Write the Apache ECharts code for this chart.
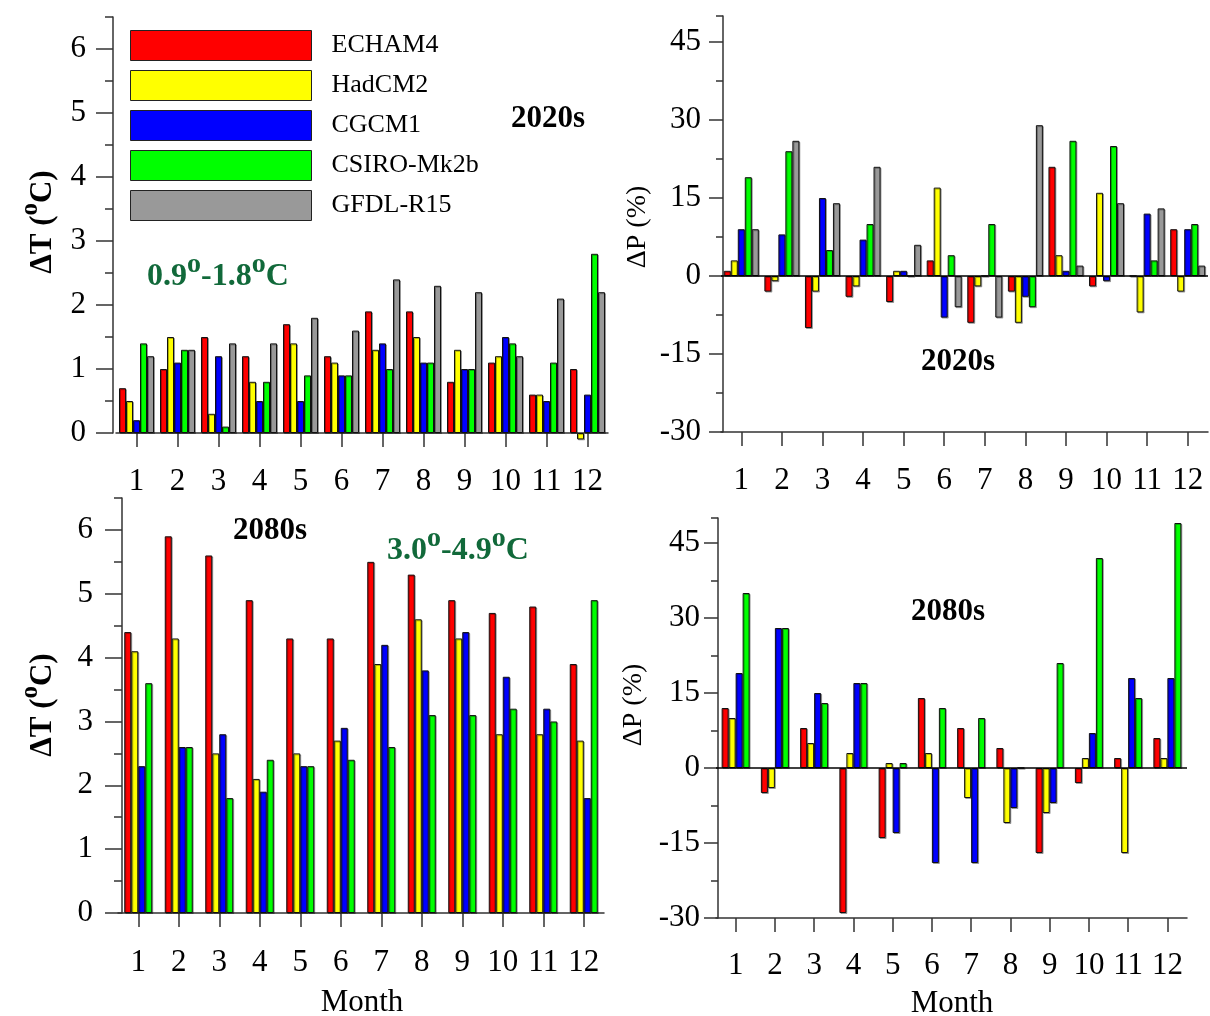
<!DOCTYPE html>
<html>
<head>
<meta charset="utf-8">
<script src="https://cdn.jsdelivr.net/npm/echarts@6/dist/echarts.min.js"></script>
<style>html,body{margin:0;padding:0;background:#fff}#c{width:1210px;height:1016px}</style>
</head>
<body>
<div id="c"></div>
<script>
const months = ['1','2','3','4','5','6','7','8','9','10','11','12'];
const models = ['ECHAM4','HadCM2','CGCM1','CSIRO-Mk2b','GFDL-R15'];

// 2020s temperature change (°C)
const t20_echam = [0.7,1.0,1.5,1.2,1.7,1.2,1.9,1.9,0.8,1.1,0.6,1.0];
const t20_had   = [0.5,1.5,0.3,0.8,1.4,1.1,1.3,1.5,1.3,1.2,0.6,-0.1];
const t20_cgcm  = [0.2,1.1,1.2,0.5,0.5,0.9,1.4,1.1,1.0,1.5,0.5,0.6];
const t20_csiro = [1.4,1.3,0.1,0.8,0.9,0.9,1.0,1.1,1.0,1.4,1.1,2.8];
const t20_gfdl  = [1.2,1.3,1.4,1.4,1.8,1.6,2.4,2.3,2.2,1.2,2.1,2.2];

// 2020s precipitation change (%)
const p20_echam = [1,-3,-10,-4,-5,3,-9,-3,21,-2,0,9];
const p20_had   = [3,-1,-3,-2,1,17,-2,-9,4,16,-7,-3];
const p20_cgcm  = [9,8,15,7,1,-8,0,-4,1,-1,12,9];
const p20_csiro = [19,24,5,10,0,4,10,-6,26,25,3,10];
const p20_gfdl  = [9,26,14,21,6,-6,-8,29,2,14,13,2];

// 2080s temperature change (°C)
const t80_echam = [4.4,5.9,5.6,4.9,4.3,4.3,5.5,5.3,4.9,4.7,4.8,3.9];
const t80_had   = [4.1,4.3,2.5,2.1,2.5,2.7,3.9,4.6,4.3,2.8,2.8,2.7];
const t80_cgcm  = [2.3,2.6,2.8,1.9,2.3,2.9,4.2,3.8,4.4,3.7,3.2,1.8];
const t80_csiro = [3.6,2.6,1.8,2.4,2.3,2.4,2.6,3.1,3.1,3.2,3.0,4.9];

// 2080s precipitation change (%)
const p80_echam = [12,-5,8,-29,-14,14,8,4,-17,-3,2,6];
const p80_had   = [10,-4,5,3,1,3,-6,-11,-9,2,-17,2];
const p80_cgcm  = [19,28,15,17,-13,-19,-19,-8,-7,7,18,18];
const p80_csiro = [35,28,13,17,1,12,10,0,21,42,14,49];

const tTicks = [0,1,2,3,4,5,6];
const pTicks = [-30,-15,0,15,30,45];

const colors = ['#ff0000','#ffff00','#0000ff','#00ff00','#999999'];
const FONT = 'Liberation Serif';
const AX = '#333';
const GREEN = '#11693a';

const grids = [
  {left:116, width:492, top:17, height:416},
  {left:721, width:487, top:16, height:416},
  {left:118, width:486, top:498, height:415},
  {left:716, width:471, top:518, height:400}
];

function xAx(g, margin){
  return {gridIndex:g, type:'category', data:months, boundaryGap:true, position:'bottom',
    axisLine:{show:true, onZero:false, lineStyle:{color:AX, width:1.5}},
    axisTick:{show:true, alignWithLabel:true, length:14, lineStyle:{color:AX, width:1.5}},
    axisLabel:{interval:0, margin:margin, fontSize:31, fontFamily:FONT, color:'#000'},
    splitLine:{show:false}};
}
function yMinor(g, min, max, step, major, offset, margin, minorLen){
  return {gridIndex:g, type:'value', position:'left', min:min, max:max, interval:step, offset:offset,
    axisLine:{show:true, lineStyle:{color:AX, width:1.5}},
    axisTick:{show:true, length:minorLen, lineStyle:{color:AX, width:1.5}},
    axisLabel:{margin:margin, fontSize:31, fontFamily:FONT, color:'#000',
      formatter:function(v){ return (Math.abs(v % major) < 1e-9) ? String(v) : ''; }},
    splitLine:{show:false}};
}
function yMajor(g, min, max, step, ticks, offset, len){
  return {gridIndex:g, type:'value', position:'left', min:min, max:max, interval:step, offset:offset,
    axisLine:{show:false},
    axisTick:{show:true, length:len, customValues:ticks, lineStyle:{color:AX, width:1.5}},
    axisLabel:{show:false},
    splitLine:{show:false}};
}

const xAxis = [xAx(0,33), xAx(1,33), xAx(2,34), xAx(3,32)];
const yAxis = [
  yMinor(0, 0, 6.5, 0.5, 1, 3, 27, 8),     yMajor(0, 0, 6.5, 1, tTicks, 3, 17),
  yMinor(1, -30, 50, 7.5, 15, -2, 22, 7),  yMajor(1, -30, 50, 15, pTicks, -2, 14),
  yMinor(2, 0, 6.5, 0.5, 1, -4, 29, 8),    yMajor(2, 0, 6.5, 1, tTicks, -4, 17),
  yMinor(3, -30, 50, 7.5, 15, -2, 18, 7),  yMajor(3, -30, 50, 15, pTicks, -2, 14)
];

function bar(name, data, g, ci, zeroLine){
  const s = {name:name, type:'bar', data:data, xAxisIndex:g, yAxisIndex:g*2,
    barWidth:7, barGap:'0%', clip:false,
    itemStyle:{color:colors[ci], borderColor:'#111', borderWidth:1,
      shadowColor:'rgba(0,0,0,0.3)', shadowOffsetX:1, shadowOffsetY:1, shadowBlur:0},
    emphasis:{disabled:true}};
  if (zeroLine) {
    s.markLine = {silent:true, symbol:'none', label:{show:false},
      lineStyle:{color:'#000', width:1.5, type:'solid'}, data:[{yAxis:0}]};
  }
  return s;
}

const series = [
  bar(models[0], t20_echam, 0, 0), bar(models[1], t20_had, 0, 1), bar(models[2], t20_cgcm, 0, 2),
  bar(models[3], t20_csiro, 0, 3), bar(models[4], t20_gfdl, 0, 4),
  bar(models[0], p20_echam, 1, 0, true), bar(models[1], p20_had, 1, 1), bar(models[2], p20_cgcm, 1, 2),
  bar(models[3], p20_csiro, 1, 3), bar(models[4], p20_gfdl, 1, 4),
  bar(models[0], t80_echam, 2, 0), bar(models[1], t80_had, 2, 1), bar(models[2], t80_cgcm, 2, 2),
  bar(models[3], t80_csiro, 2, 3),
  bar(models[0], p80_echam, 3, 0, true), bar(models[1], p80_had, 3, 1), bar(models[2], p80_cgcm, 3, 2),
  bar(models[3], p80_csiro, 3, 3)
];

function supText(parts, size, supSize, bold, color, lh){
  return {
    rich:{
      n:{fontSize:size, fontWeight:bold?'bold':'normal', fontFamily:FONT, fill:color, lineHeight:lh, verticalAlign:'bottom'},
      s:{fontSize:supSize, fontWeight:bold?'bold':'normal', fontFamily:FONT, fill:color, lineHeight:lh, verticalAlign:'top'}
    },
    text: parts
  };
}
function label(txt, x, y, size, bold, color, rot){
  return {type:'text', x:x, y:y, rotation:rot||0,
    style:{text:txt, fontSize:size, fontWeight:bold?'bold':'normal', fontFamily:FONT, fill:color||'#000',
      align:'center', verticalAlign:'middle'}};
}
function richLabel(txt, x, y, size, supSize, bold, color, rot, lh){
  const st = supText(txt, size, supSize, bold, color, lh);
  st.align = 'center'; st.verticalAlign = 'middle';
  return {type:'text', x:x, y:y, rotation:rot||0, style:st};
}

const graphic = [
  label('2020s', 548, 119, 31, true),
  label('2020s', 958, 362, 31, true),
  label('2080s', 270, 531, 31, true),
  label('2080s', 948, 612, 31, true),
  richLabel('{n|0.9}{s|o}{n|-1.8}{s|o}{n|C}', 218, 272, 32, 28, true, GREEN, 0, 42),
  richLabel('{n|3.0}{s|o}{n|-4.9}{s|o}{n|C}', 458, 546, 32, 28, true, GREEN, 0, 42),
  richLabel('{n|ΔT (}{s|o}{n|C)}', 38, 222, 31, 25, true, '#000', Math.PI/2, 40),
  richLabel('{n|ΔT (}{s|o}{n|C)}', 38, 705, 31, 25, true, '#000', Math.PI/2, 40),
  label('ΔP (%)', 638, 227, 28, false, '#000', Math.PI/2),
  label('ΔP (%)', 634, 705, 28, false, '#000', Math.PI/2),
  label('Month', 362, 1003, 31, false),
  label('Month', 952, 1004, 31, false)
];

const chart = echarts.init(document.getElementById('c'), null, {renderer:'canvas'});
chart.setOption({
  animation:false,
  backgroundColor:'#fff',
  grid:grids,
  xAxis:xAxis,
  yAxis:yAxis,
  legend:{data:models, orient:'vertical', left:130, top:30, itemWidth:181, itemHeight:30, itemGap:9,
    icon:'rect', selectedMode:false, padding:0,
    itemStyle:{borderColor:'#222', borderWidth:1, shadowBlur:0, shadowOffsetX:0, shadowOffsetY:0},
    textStyle:{fontSize:26, fontFamily:FONT, color:'#000', padding:[0,0,0,15], lineHeight:30}},
  series:series,
  graphic:graphic
});
</script>
</body>
</html>
